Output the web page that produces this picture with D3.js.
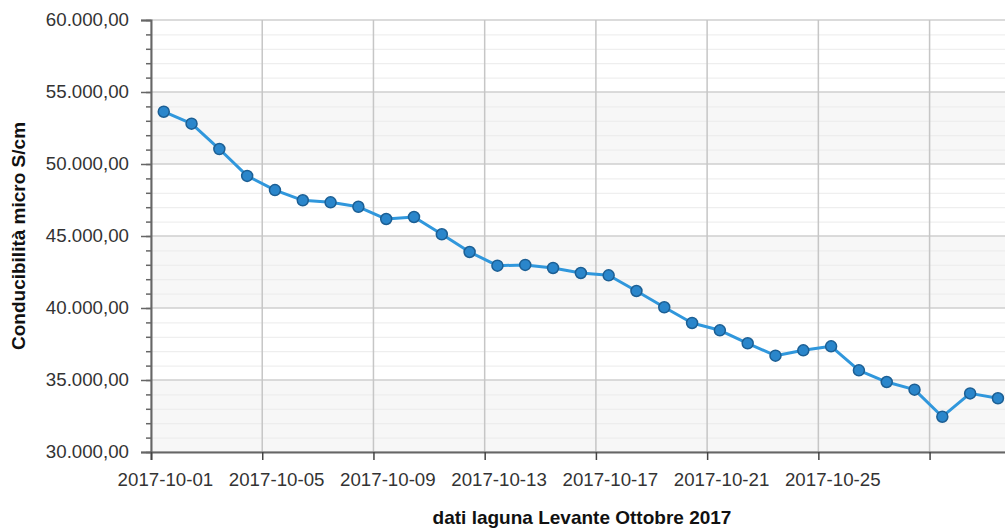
<!DOCTYPE html>
<html>
<head>
<meta charset="utf-8">
<script src="https://cdn.jsdelivr.net/npm/d3@7"></script>
<style>
  html, body { margin: 0; padding: 0; background: #fff; overflow: hidden; }
  svg { display: block; font-family: "Liberation Sans", Arial, sans-serif; }
</style>
</head>
<body>
<svg id="chart" width="1005" height="528"></svg>
<script>
// ---- data ----
const dates = [
  "2017-10-01","2017-10-02","2017-10-03","2017-10-04","2017-10-05","2017-10-06",
  "2017-10-07","2017-10-08","2017-10-09","2017-10-10","2017-10-11","2017-10-12",
  "2017-10-13","2017-10-14","2017-10-15","2017-10-16","2017-10-17","2017-10-18",
  "2017-10-19","2017-10-20","2017-10-21","2017-10-22","2017-10-23","2017-10-24",
  "2017-10-25","2017-10-26","2017-10-27","2017-10-28","2017-10-29","2017-10-30",
  "2017-10-31"
];
const conductivity = [
  53630, 52800, 51040, 49170, 48190, 47480,
  47340, 47030, 46180, 46320, 45120, 43890,
  42940, 42990, 42780, 42430, 42270, 41180,
  40050, 38960, 38450, 37550, 36690, 37060,
  37340, 35670, 34860, 34330, 32450, 34070,
  33730
];
const xTickDates = ["2017-10-01","2017-10-05","2017-10-09","2017-10-13","2017-10-17","2017-10-21","2017-10-25","2017-10-29"];
const xTickLabels = ["2017-10-01","2017-10-05","2017-10-09","2017-10-13","2017-10-17","2017-10-21","2017-10-25",""];
const yTicks = [30000, 35000, 40000, 45000, 50000, 55000, 60000];
const yTitle = "Conducibilità micro S/cm";
const xTitle = "dati laguna Levante Ottobre 2017";

(function () {
// ---- layout ----
const svg = d3.select("#chart");
const pL = 151, pT = 20, pB = 452, pR = 1013;
const parse = d3.utcParse("%Y-%m-%d");
const x = d3.scaleUtc()
  .domain([parse("2017-10-01"), parse("2017-11-01")])
  .range([pL, pR]);
const y = d3.scaleLinear().domain([30000, 60000]).range([pB, pT]);
const halfDay = 11 * 3600 * 1000;
const px = d => x(new Date(parse(d).getTime() + halfDay));

const it = d3.formatLocale({decimal: ",", thousands: ".", grouping: [3], currency: ["€", ""]});
const fmt = it.format(",.2f");

const minorVals = d3.range(30000, 60001, 1000);

// bands
const bands = [[30000, 35000], [40000, 45000], [50000, 55000]];
svg.append("g").selectAll("rect").data(bands).join("rect")
  .attr("x", pL).attr("width", pR - pL)
  .attr("y", d => y(d[1])).attr("height", d => y(d[0]) - y(d[1]))
  .attr("fill", "#f7f7f7");

// minor grid
svg.append("g").selectAll("line").data(minorVals.filter(v => v % 5000 !== 0)).join("line")
  .attr("x1", pL).attr("x2", pR)
  .attr("y1", d => y(d) + 0.5).attr("y2", d => y(d) + 0.5)
  .attr("stroke", "#ebebeb").attr("stroke-width", 1);

// major grid
svg.append("g").selectAll("line").data(yTicks).join("line")
  .attr("x1", pL).attr("x2", pR)
  .attr("y1", d => y(d)).attr("y2", d => y(d))
  .attr("stroke", "#cfcfcf").attr("stroke-width", 1.5);

// vertical grid
svg.append("g").selectAll("line").data(xTickDates).join("line")
  .attr("x1", d => x(parse(d))).attr("x2", d => x(parse(d)))
  .attr("y1", pT).attr("y2", pB)
  .attr("stroke", "#c6c6c6").attr("stroke-width", 1.5);

// minor y ticks
const yMinor = svg.append("g").attr("transform", `translate(${pL},0)`)
  .call(d3.axisLeft(y).tickValues(minorVals).tickSize(5).tickFormat(""));
yMinor.select(".domain").remove();
yMinor.selectAll("line").attr("stroke", "#666").attr("stroke-width", 1.5);

// major y axis
const yAxis = svg.append("g").attr("transform", `translate(${pL},0)`)
  .call(d3.axisLeft(y).tickValues(yTicks).tickSize(10).tickPadding(12).tickFormat(fmt));
yAxis.select(".domain").attr("stroke", "#666").attr("stroke-width", 2);
yAxis.selectAll(".tick line").attr("stroke", "#666").attr("stroke-width", 1.5);
yAxis.selectAll("text").attr("fill", "#333").style("font-size", "18.7px")
  .attr("font-family", "Liberation Sans, Arial, sans-serif");

// x axis
const xAxis = svg.append("g").attr("transform", `translate(0,${pB})`)
  .call(d3.axisBottom(x).tickValues(xTickDates.map(parse)).tickSize(8).tickPadding(13)
    .tickFormat((d, i) => xTickLabels[i]));
xAxis.select(".domain").attr("stroke", "#666").attr("stroke-width", 2);
xAxis.selectAll(".tick line").attr("stroke", "#444").attr("stroke-width", 1.5);
xAxis.selectAll("text").attr("fill", "#333").style("font-size", "18.7px")
  .attr("font-family", "Liberation Sans, Arial, sans-serif")
  .attr("x", (d) => x(new Date(d.getTime() + 12 * 3600 * 1000)) - x(d));

// line
const data = dates.map((d, i) => ({d, v: conductivity[i]}));
svg.append("path").datum(data)
  .attr("fill", "none").attr("stroke", "#3097dc").attr("stroke-width", 3)
  .attr("stroke-linejoin", "round")
  .attr("d", d3.line().x(p => px(p.d)).y(p => y(p.v)));

svg.append("g").selectAll("circle").data(data).join("circle")
  .attr("cx", p => px(p.d)).attr("cy", p => y(p.v)).attr("r", 5.5)
  .attr("fill", "#2a86cb").attr("stroke", "#1c5f94").attr("stroke-width", 1.5);

// titles
svg.append("text")
  .attr("transform", `translate(25,${(pT + pB) / 2}) rotate(-90)`)
  .attr("text-anchor", "middle")
  .attr("font-weight", "bold").attr("font-size", "19px").attr("fill", "#111")
  .text(yTitle);

svg.append("text")
  .attr("x", (pL + pR) / 2).attr("y", 524)
  .attr("text-anchor", "middle")
  .attr("font-weight", "bold").attr("font-size", "19px").attr("fill", "#111")
  .text(xTitle);
})();
</script>
</body>
</html>
